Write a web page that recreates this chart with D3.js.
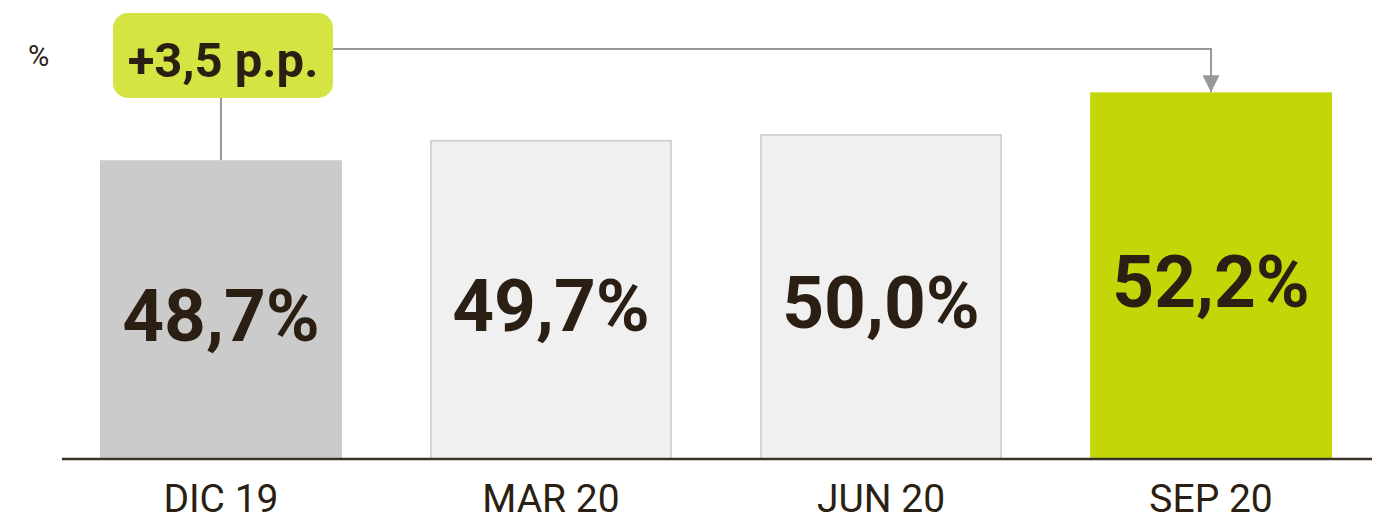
<!DOCTYPE html>
<html>
<head>
  <meta charset="utf-8" />
  <title>Bar chart</title>
  <style>
    body { margin: 0; background: #fff; }
    svg { display: block; font-family: Roboto, "Noto Sans", sans-serif; }
  </style>
</head>
<body>
  <svg></svg>
  <script src="https://d3js.org/d3.v7.min.js"></script>
  <script>
    var categories = ["DIC 19", "MAR 20", "JUN 20", "SEP 20"];
    var values = [48.7, 49.7, 50.0, 52.2];
    var valueLabels = ["48,7%", "49,7%", "50,0%", "52,2%"];
    var changeLabel = "+3,5 p.p.";
    var unitLabel = "%";

    var width = 1377, height = 523;
    var baseY = 459;
    var ink = "#2b1f14";

    var svg = d3.select("svg")
      .attr("width", width)
      .attr("height", height);

    var x = d3.scaleBand()
      .domain(categories)
      .range([100, 1332])
      .paddingInner(0.267)
      .paddingOuter(0);

    // axis does not start at zero in the original
    var y = d3.scaleLinear()
      .domain([33.3, 55])
      .range([baseY, baseY - 19.4 * 21.7]);

    var fills = ["#cbcbcb", "#f0f0f0", "#f0f0f0", "#c5d608"];
    var strokes = ["none", "#d3d3d3", "#d3d3d3", "none"];

    svg.append("g")
      .selectAll("rect")
      .data(values)
      .enter()
      .append("rect")
      .attr("x", (d, i) => x(categories[i]) + (strokes[i] == "none" ? 0 : 1))
      .attr("width", (d, i) => x.bandwidth() - (strokes[i] == "none" ? 0 : 2))
      .attr("y", d => y(d))
      .attr("height", d => baseY - y(d))
      .attr("fill", (d, i) => fills[i])
      .attr("stroke", (d, i) => strokes[i])
      .attr("stroke-width", 2);

    svg.append("g")
      .selectAll("text")
      .data(values)
      .enter()
      .append("text")
      .attr("x", (d, i) => x(categories[i]) + x.bandwidth() / 2)
      .attr("y", d => (y(d) + baseY) / 2 + 6)
      .attr("text-anchor", "middle")
      .attr("dominant-baseline", "central")
      .attr("font-size", 73)
      .attr("font-weight", 700)
      .attr("fill", ink)
      .text((d, i) => valueLabels[i]);

    // baseline
    svg.append("line")
      .attr("x1", 62).attr("x2", 1372)
      .attr("y1", baseY).attr("y2", baseY)
      .attr("stroke", "#3b3225")
      .attr("stroke-width", 2.5);

    svg.append("g")
      .selectAll("text")
      .data(categories)
      .enter()
      .append("text")
      .attr("x", d => x(d) + x.bandwidth() / 2)
      .attr("y", 512)
      .attr("text-anchor", "middle")
      .attr("font-size", 39)
      .attr("fill", ink)
      .text(d => d);

    svg.append("text")
      .attr("x", 28).attr("y", 66)
      .attr("font-size", 29)
      .attr("fill", ink)
      .text(unitLabel);

    // change annotation
    var firstX = x(categories[0]) + x.bandwidth() / 2;
    var lastX = x(categories[3]) + x.bandwidth() / 2;
    var lineY = 49;

    svg.append("defs").append("marker")
      .attr("id", "arrow")
      .attr("viewBox", "0 0 10 10")
      .attr("refX", 10).attr("refY", 5)
      .attr("markerWidth", 8.5).attr("markerHeight", 8.5)
      .attr("markerUnits", "strokeWidth")
      .attr("orient", "auto")
      .append("path")
      .attr("d", "M0,0L10,5L0,10Z")
      .attr("fill", "#999");

    svg.append("path")
      .attr("d", "M" + firstX + "," + y(values[0]) + "V" + lineY + "H" + lastX + "V" + y(values[3]))
      .attr("fill", "none")
      .attr("stroke", "#999")
      .attr("stroke-width", 2)
      .attr("marker-end", "url(#arrow)");

    svg.append("rect")
      .attr("x", 113).attr("y", 13)
      .attr("width", 220).attr("height", 85)
      .attr("rx", 15).attr("ry", 15)
      .attr("fill", "#d4e443");

    svg.append("text")
      .attr("x", 223).attr("y", 77)
      .attr("text-anchor", "middle")
      .attr("font-size", 49)
      .attr("font-weight", 700)
      .attr("fill", ink)
      .text(changeLabel);
  </script>
</body>
</html>
